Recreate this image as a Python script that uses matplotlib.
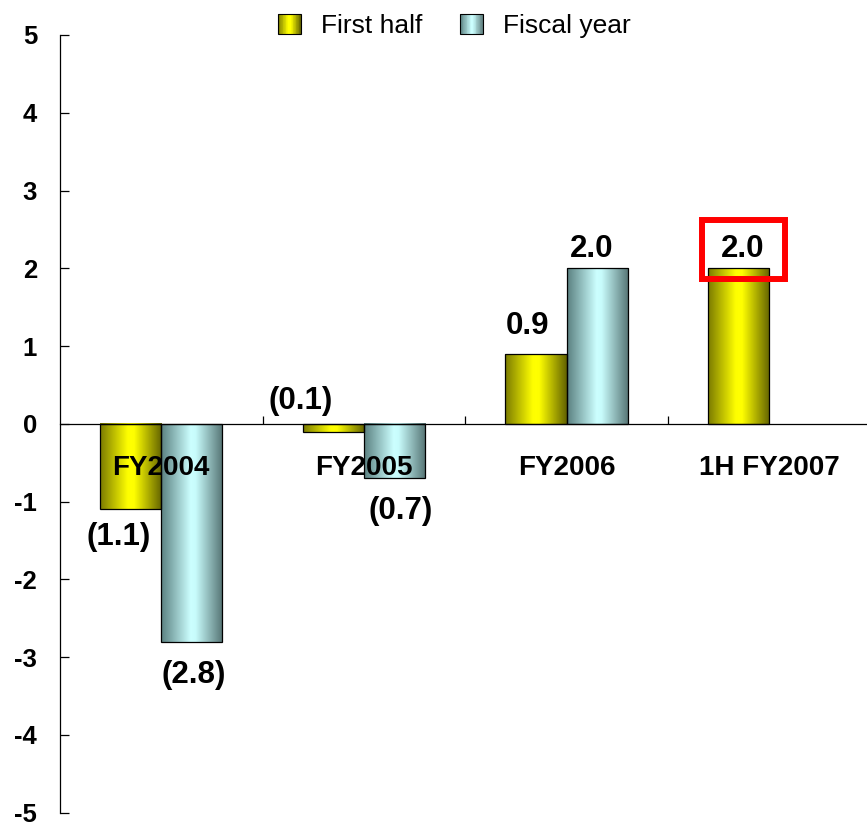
import numpy as np
import matplotlib
matplotlib.use("Agg")
import matplotlib.pyplot as plt
from matplotlib.colors import LinearSegmentedColormap
from matplotlib.patches import Rectangle
from matplotlib.legend_handler import HandlerBase

plt.rcParams['font.family'] = ['Liberation Sans', 'DejaVu Sans']
plt.rcParams['axes.unicode_minus'] = False

# ---- data -------------------------------------------------------------
categories = ['FY2004', 'FY2005', 'FY2006', '1H FY2007']
first_half = [-1.1, -0.1, 0.9, 2.0]
fiscal_year = [-2.8, -0.7, 2.0, None]
series_names = ['First half', 'Fiscal year']
y_ticks = [-5, -4, -3, -2, -1, 0, 1, 2, 3, 4, 5]

# label offsets from the bar end, in pixels (dx, dy)
first_half_offsets = [(-12, -28), (-33, 31), (-8, 28), (4, 19)]
fiscal_year_offsets = [(2, -33), (6, -33), (-5, 19), None]

# ---- shading ----------------------------------------------------------
yellow_cmap = LinearSegmentedColormap.from_list(
    'yellow_shade', [(0.0, '#7a7a00'), (0.45, '#ffff00'), (0.55, '#ffff00'), (1.0, '#626200')])
cyan_cmap = LinearSegmentedColormap.from_list(
    'cyan_shade', [(0.0, '#5a8080'), (0.48, '#ccffff'), (0.56, '#c8fcfc'), (1.0, '#557373')])
grad = np.linspace(0, 1, 256).reshape(1, -1)


def shade_bars(ax, bars, cmap):
    for b in bars:
        x0, y0 = b.get_x(), b.get_y()
        w, h = b.get_width(), b.get_height()
        ax.imshow(grad, cmap=cmap, extent=(x0, x0 + w, min(y0, y0 + h), max(y0, y0 + h)),
                  aspect='auto', interpolation='bicubic', zorder=2)
        b.set_facecolor('none')
        b.set_zorder(3)


class GradientHandler(HandlerBase):
    def __init__(self, cmap):
        super().__init__()
        self.cmap = cmap

    def create_artists(self, legend, orig_handle, xdescent, ydescent,
                       width, height, fontsize, trans):
        n = 30
        arts = []
        for i in range(n):
            arts.append(Rectangle((-xdescent + i * width / n, -ydescent), width / n * 1.05, height,
                                  facecolor=self.cmap((i + 0.5) / n), edgecolor='none',
                                  transform=trans))
        arts.append(Rectangle((-xdescent, -ydescent), width, height, facecolor='none',
                              edgecolor='black', lw=0.8, transform=trans))
        return arts


# ---- figure -----------------------------------------------------------
W, H = 867, 822
fig = plt.figure(figsize=(W / 100, H / 100), dpi=100)
ax = fig.add_axes([60 / W, 9.3 / H, 4 * 202.6 / W, 777.7 / H])

x = np.arange(len(categories))
bar_w = 0.302

fh_bars = ax.bar(x - bar_w / 2, first_half, bar_w, facecolor='#ffff00',
                 edgecolor='black', linewidth=0.9, label=series_names[0])
fy_idx = [i for i, v in enumerate(fiscal_year) if v is not None]
fy_bars = ax.bar([x[i] + bar_w / 2 for i in fy_idx], [fiscal_year[i] for i in fy_idx], bar_w,
                 facecolor='#ccffff', edgecolor='black', linewidth=0.9, label=series_names[1])
shade_bars(ax, fh_bars, yellow_cmap)
shade_bars(ax, fy_bars, cyan_cmap)


def fmt(v):
    return f'({abs(v):.1f})' if v < 0 else f'{v:.1f}'


px = 72 / 100
for i, v in enumerate(first_half):
    dx, dy = first_half_offsets[i]
    ax.annotate(fmt(v), (x[i] - bar_w / 2, v), xytext=(dx * px, dy * px),
                textcoords='offset points', ha='center', va='center',
                fontsize=22.5, fontweight='bold', zorder=6)
for i in fy_idx:
    v = fiscal_year[i]
    dx, dy = fiscal_year_offsets[i]
    ax.annotate(fmt(v), (x[i] + bar_w / 2, v), xytext=(dx * px, dy * px),
                textcoords='offset points', ha='center', va='center',
                fontsize=22.5, fontweight='bold', zorder=6)

# highlight box around the latest first-half figure
ax.add_patch(Rectangle((2.669, 1.86), 0.409, 0.76, fill=False, edgecolor='#ff0000',
                       linewidth=4.3, zorder=7, clip_on=False))

# ---- axes -------------------------------------------------------------
ax.set_xlim(-0.5, 3.5)
ax.set_ylim(-5, 5)
ax.set_yticks(y_ticks)
ax.set_yticklabels([str(t) for t in y_ticks])
ax.tick_params(axis='y', direction='in', length=6.5, width=0.9, pad=16.5,
               labelsize=18.5)
for lab in ax.get_yticklabels():
    lab.set_fontweight('bold')

ax.spines['top'].set_visible(False)
ax.spines['right'].set_visible(False)
ax.spines['bottom'].set_position(('data', 0))
ax.spines['left'].set_linewidth(0.9)
ax.spines['bottom'].set_linewidth(0.9)

ax.set_xticks([0.5, 1.5, 2.5])
ax.set_xticklabels([])
ax.tick_params(axis='x', which='major', direction='in', length=6, width=0.9)
ax.set_xticks(x, minor=True)
ax.set_xticklabels(categories, minor=True)
ax.tick_params(axis='x', which='minor', length=0, pad=22.5, labelsize=20)
for lab in ax.get_xticklabels(minor=True):
    lab.set_fontweight('bold')
# category names sit on top of the bars
ax.xaxis.set_zorder(8)

leg = fig.legend(handles=[fh_bars, fy_bars], labels=series_names, ncol=2,
                 loc='upper left', bbox_to_anchor=(278 / W, 1 - 14 / H),
                 frameon=False, fontsize=19, borderpad=0, borderaxespad=0,
                 handlelength=0.87, handleheight=0.8, handletextpad=0.76,
                 columnspacing=1.44,
                 handler_map={fh_bars: GradientHandler(yellow_cmap),
                              fy_bars: GradientHandler(cyan_cmap)})

fig.savefig('out.png', dpi=100)
